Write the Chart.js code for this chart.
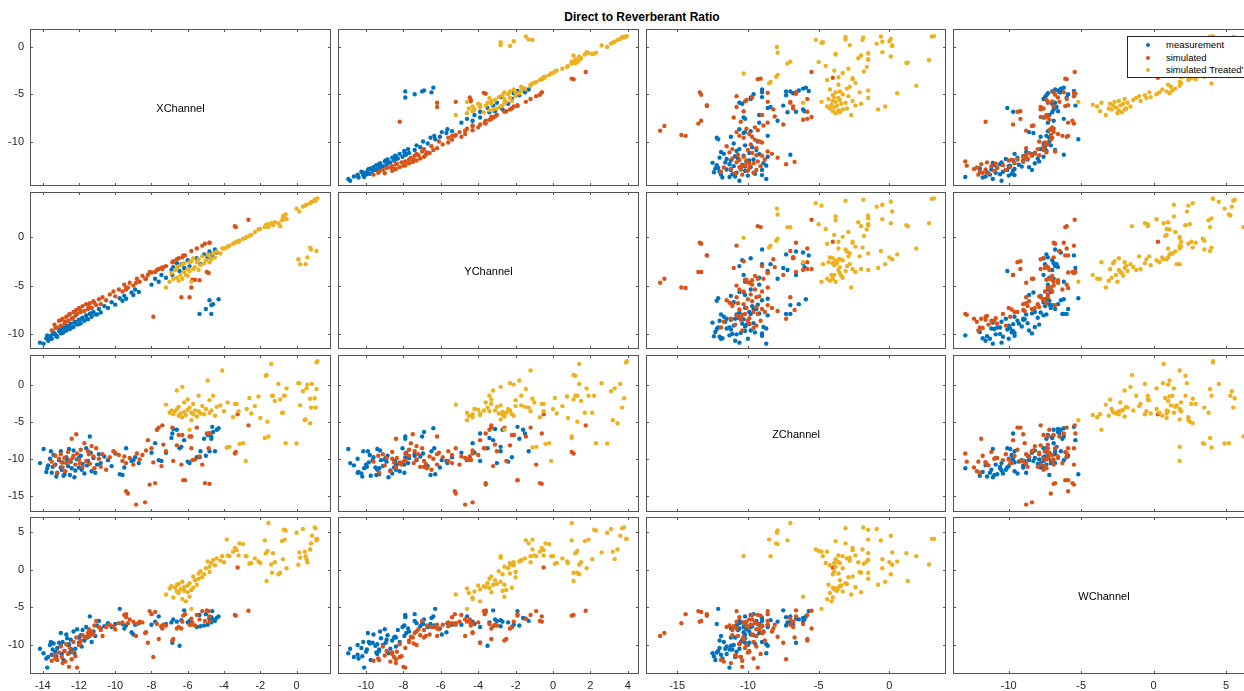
<!DOCTYPE html>
<html>
<head>
<meta charset="utf-8">
<script src="https://cdn.jsdelivr.net/npm/chart.js@4.4.1/dist/chart.umd.min.js"></script>
<style>
html,body{margin:0;padding:0;background:#fff;overflow:hidden;}
#root{position:relative;width:1244px;height:691px;overflow:hidden;font-family:Arial,"Liberation Sans",Helvetica,sans-serif;}
#root canvas{position:absolute;}
.title{position:absolute;top:10px;left:0;width:1284px;text-align:center;font-weight:bold;font-size:12px;color:#000;}
.diag{position:absolute;display:flex;align-items:center;justify-content:center;font-size:11px;color:#000;}
.legend{position:absolute;left:1127px;top:36px;width:130px;height:40px;border:1px solid #262626;background:#fff;z-index:5;}
.legend div{position:absolute;left:38px;font-size:9.5px;color:#000;line-height:12px;white-space:nowrap;}
.legend span{position:absolute;width:4px;height:4px;border-radius:50%;}
</style>
</head>
<body>
<div id="root"></div>
<script>
// Direct to Reverberant Ratio, plotmatrix of the four channels

const CHANNELS = ['XChannel','YChannel','ZChannel','WChannel'];

// measurement
const measX = [-14.15,-13.95,-13.8,-13.75,-13.6,-13.5,-13.4,-13.3,-13.2,-13.1,-13.0,-12.95,-12.9,-12.8,-12.7,-12.6,-12.5,-12.45,-12.3,-12.2,-12.1,-12.0,-11.9,-11.8,-11.7,-11.6,-11.5,-11.4,-11.3,-11.2,-11.0,-10.9,-10.8,-10.6,-10.4,-10.2,-10.0,-9.75,-9.6,-9.5,-9.4,-9.1,-9.0,-8.9,-8.7,
  -13.7,-13.45,-13.25,-13.0,-12.85,-12.65,-12.4,-12.25,-12.0,-11.85,-11.55,-11.35,-11.1,-13.55,-12.55,
  -8.0,-7.8,-7.6,-7.45,-7.2,-6.9,-6.85,-6.8,-6.6,-6.45,-6.35,-6.2,-6.0,-5.9,-5.5,-5.3,-5.1,-4.9,-4.8,-4.65,-4.5,-4.4,
  -5.35,-5.0,-4.8,-4.7,-4.6,-4.3,-4.7];
const measY = [-10.85,-10.95,-10.4,-10.1,-10.45,-10.45,-9.8,-10.0,-10.25,-9.65,-9.9,-9.4,-9.85,-9.3,-9.6,-9.1,-9.45,-8.9,-9.25,-8.7,-9.0,-8.5,-8.85,-8.3,-8.6,-8.05,-8.45,-7.9,-8.2,-7.7,-7.95,-7.4,-7.75,-7.1,-7.3,-6.7,-6.95,-6.3,-6.55,-6.05,-6.35,-5.7,-5.95,-5.4,-5.65,
  -10.65,-9.95,-10.2,-9.5,-9.75,-9.2,-9.3,-8.8,-8.95,-8.4,-8.4,-7.85,-7.95,-10.15,-9.4,
  -4.9,-4.3,-4.6,-3.9,-4.2,-3.4,-3.9,-3.1,-2.7,-3.5,-2.8,-3.2,-2.4,-3.0,-2.2,-2.8,-1.8,-2.1,-1.5,-1.9,-1.3,-1.6,
  -7.9,-7.4,-6.5,-7.0,-6.9,-6.4,-7.9];
const measZ = [-10.6,-8.7,-11.8,-11.3,-10.0,-11.9,-9.5,-10.8,-12.0,-10.2,-9.0,-11.5,-10.5,-12.1,-9.8,-11.0,-12.2,-10.4,-8.9,-11.6,-10.1,-11.2,-9.6,-10.7,-12.0,-8.6,-10.3,-7.0,-11.7,-9.9,-10.8,-9.4,-10.6,-9.7,-10.2,-11.0,-9.3,-12.1,-12.2,-11.2,-8.6,-10.3,-10.2,-9.8,-10.6,
  -10.9,-11.1,-12.4,-11.2,-12.3,-10.2,-11.3,-12.5,-9.9,-11.5,-10.9,-9.2,-11.9,-9.0,-8.7,
  -9.2,-7.9,-10.2,-10.3,-9.2,-7.2,-6.6,-6.0,-6.1,-8.6,-8.4,-7.5,-10.4,-10.6,-9.8,-9.0,-7.3,-6.8,-6.6,-5.7,-9.0,-6.1,
  -9.8,-9.6,-9.0,-7.0,-6.4,-5.9,-7.3];
const measW = [-10.5,-11.1,-11.8,-13.0,-10.0,-11.3,-9.8,-10.9,-10.4,-9.7,-8.4,-11.2,-9.6,-10.8,-8.6,-10.0,-11.0,-9.3,-8.2,-10.5,-7.9,-9.0,-8.7,-8.0,-9.4,-7.6,-8.9,-6.2,-9.6,-8.2,-7.4,-6.8,-7.8,-7.5,-7.1,-7.6,-7.2,-5.2,-7.2,-7.8,-7.4,-8.3,-8.6,-7.3,-7.1,
  -11.6,-10.6,-11.5,-10.1,-12.0,-9.1,-10.6,-11.1,-9.7,-10.2,-9.0,-8.4,-8.8,-9.6,-9.9,
  -7.3,-6.9,-6.2,-7.6,-7.2,-7.0,-9.7,-6.6,-6.9,-10.1,-6.7,-5.4,-7.0,-6.8,-7.6,-7.5,-7.4,-7.3,-6.5,-5.5,-6.8,-6.4,
  -6.0,-5.9,-6.4,-7.0,-6.6,-6.2,-6.3];

// simulated
const simX = [-13.5,-13.35,-13.2,-13.1,-13.0,-12.9,-12.8,-12.7,-12.6,-12.5,-12.4,-12.3,-12.2,-12.15,-12.1,-12.0,-11.9,-11.8,-11.7,-11.6,-11.5,-11.4,-11.3,-11.2,-11.05,-10.9,-10.8,-10.7,-10.5,-10.3,-10.1,-10.0,-9.8,-9.6,-9.5,-9.4,-9.2,-9.0,-8.8,-8.65,-8.5,-8.3,
  -13.3,-12.95,-12.75,-12.55,-12.35,-11.95,-11.45,-11.15,
  -8.85,-8.35,-9.4,-9.3,-8.1,-7.8,-5.05,-4.8,-6.15,-6.25,
  -8.0,-7.9,-7.7,-7.45,-7.4,-7.35,-7.2,-6.85,-6.8,-6.6,-6.5,-6.35,-6.3,-5.9,-5.8,-5.8,-5.75,-5.6,-5.5,-5.35,-5.2,-4.95,-4.85,-4.8,-3.4,-3.35,-3.25,-2.65,-8.2,-7.6];
const simY = [-9.6,-9.0,-9.3,-8.6,-9.1,-8.4,-8.9,-8.2,-8.6,-7.9,-8.4,-7.7,-8.1,-7.5,-7.9,-7.3,-7.7,-7.1,-7.6,-6.9,-7.4,-6.8,-7.3,-6.6,-7.0,-6.4,-6.9,-6.2,-6.5,-5.9,-5.6,-6.1,-5.4,-5.6,-4.9,-5.4,-4.7,-5.0,-4.3,-4.6,-4.0,-4.3,
  -9.35,-8.5,-8.7,-8.0,-8.35,-7.45,-7.2,-6.75,
  -4.7,-4.3,-5.25,-5.2,-3.6,-3.6,-0.7,-0.6,-1.9,-1.9,
  -3.65,-8.2,-3.4,-3.2,-3.3,-3.1,-3.0,-2.6,-2.5,-2.3,-2.2,-6.2,-2.1,-6.2,-5.2,-1.45,-4.4,-4.4,-1.2,-4.45,-0.9,-3.6,-3.7,-0.6,1.1,1.0,-0.5,1.75,-3.9,-3.3];
const simZ = [-10.4,-10.9,-11.9,-10.0,-9.4,-11.2,-9.9,-10.6,-9.1,-10.2,-7.3,-9.6,-10.8,-6.7,-9.3,-10.1,-8.8,-11.1,-7.9,-10.3,-9.0,-10.7,-8.3,-9.7,-8.6,-10.0,-11.1,-9.4,-11.5,-9.8,-9.0,-9.2,-9.5,-10.3,-9.7,-10.6,-9.9,-10.8,-9.3,-10.1,-9.5,-8.9,
  -9.6,-10.5,-11.7,-10.4,-9.9,-10.6,-9.4,-11.3,
  -16.2,-15.9,-14.4,-14.7,-13.5,-13.3,-13.3,-13.4,-12.9,-12.9,
  -8.6,-10.5,-6.1,-11.0,-5.5,-8.1,-9.0,-5.8,-10.3,-8.2,-6.8,-10.8,-6.8,-7.0,-8.6,-7.0,-10.2,-10.1,-5.8,-9.7,-10.8,-6.6,-8.6,-6.6,-9.3,-9.1,-4.0,-5.5,-7.5,-5.8];
const simW = [-12.1,-11.4,-12.0,-11.0,-10.2,-12.4,-10.8,-9.9,-11.2,-10.4,-11.9,-9.6,-11.5,-9.0,-13.0,-10.0,-9.4,-8.7,-8.9,-9.0,-8.4,-8.8,-8.2,-8.6,-6.8,-7.6,-8.0,-8.8,-7.6,-7.3,-7.5,-7.9,-7.1,-7.0,-6.0,-6.3,-6.6,-6.9,-7.2,-6.9,-7.0,-8.3,
  -11.8,-11.6,-12.2,-12.9,-10.9,-9.8,-7.9,-7.4,
  -8.8,-8.4,-5.9,-7.1,-5.5,-5.6,-6.8,-6.9,-5.9,-6.1,
  -5.9,-11.6,-7.2,-7.5,-7.8,-7.3,-7.4,-9.4,-9.2,-7.8,-7.6,-7.8,-6.9,-7.3,-7.3,-6.5,-7.0,-7.4,-6.0,-6.6,-5.5,-5.4,-5.5,-6.2,-6.0,-6.1,0.3,-5.45,-9.7,-9.2];

// simulated Treated
const trtX = [-7.2,-7.0,-6.9,-6.8,-6.7,-6.6,-6.6,-6.5,-6.5,-6.4,-6.3,-6.3,-6.2,-6.2,-6.1,-6.0,-6.0,-5.9,-5.9,-5.8,
  -5.8,-5.7,-5.7,-5.6,-5.5,-5.4,-5.4,-5.3,-5.2,-5.1,-5.0,-4.9,-4.8,-4.8,-4.7,-4.6,-4.5,-4.4,-4.2,-4.1,
  -4.0,-3.85,-3.8,-3.7,-3.5,-3.4,-3.3,-3.2,-3.15,-2.95,-2.8,-2.75,-2.6,-2.5,-2.3,-2.1,-2.0,-1.75,-1.7,-1.65,
  -1.6,-1.55,-1.4,-1.35,-1.3,-1.2,-1.0,-0.9,-0.8,-0.75,-0.7,-0.65,-0.6,-0.55,0.0,0.15,0.35,0.45,0.55,0.75,
  0.85,1.0,1.05,1.1,1.15,
  0.1,0.2,0.5,0.6,0.75,0.8,1.1];
const trtY = [-5.2,-4.6,-3.7,-4.3,-3.4,-4.2,-3.2,-4.5,-3.0,-3.9,-2.8,-4.3,-3.6,-2.7,-3.9,-3.3,-4.0,-2.6,-3.5,-4.6,
  -2.5,-3.3,-2.2,-3.1,-2.6,-3.4,-2.3,-2.9,-2.0,-2.7,-2.4,-1.8,-2.6,-2.0,-2.3,-1.7,-2.1,-1.5,-1.7,-1.2,
  -1.2,-1.1,-1.0,-0.9,-0.7,-0.6,-0.5,-0.5,-0.4,-0.2,-0.1,0.0,0.1,0.2,0.5,0.75,0.8,1.0,1.2,1.1,
  1.3,1.0,1.4,1.3,1.2,1.5,1.4,1.1,1.7,2.1,2.2,1.9,2.3,1.8,2.9,2.6,3.1,3.2,3.3,3.45,
  3.6,3.8,3.7,3.9,3.95,
  -2.3,-2.8,-2.8,-2.1,-1.1,-1.3,-1.45];
const trtZ = [-2.7,-3.8,-3.5,-4.0,-3.6,-3.3,-0.8,-4.2,-3.0,-3.9,-0.3,-4.4,-2.4,-3.7,-4.1,-2.0,-3.4,-6.1,-3.1,-4.8,
  -3.8,-2.6,-4.0,-3.5,-4.3,-1.5,-3.6,-3.9,-2.9,-4.0,-3.3,0.55,-3.8,-2.1,-3.5,-1.5,-4.2,-3.0,-2.8,1.9,
  -3.6,-8.5,-2.4,-8.4,-4.4,-2.6,-2.6,-3.6,-8.0,-7.9,-10.3,-3.3,-1.8,-3.9,-2.9,-1.6,-4.5,-7.2,1.2,1.3,
  -5.0,-7.0,2.8,-1.5,-1.5,-2.2,0.1,-2.0,-3.8,-3.8,-1.5,-1.5,-7.9,-0.5,-7.95,0.2,-0.9,-4.8,-0.5,-5.2,
  0.1,-1.85,-3.1,3.0,3.15,
  0.2,-2.8,-4.7,0.0,-1.9,-3.1,-0.6];
const trtW = [-3.3,-2.5,-2.2,-3.7,-2.4,-2.9,-2.0,-3.1,-1.9,-2.6,-1.6,-3.9,-2.3,-2.8,-4.2,-3.0,-2.1,-3.6,-1.8,-5.2,
  -2.7,-0.9,-2.4,-1.4,-2.0,-1.2,-0.5,-0.2,-1.0,-0.6,0.2,1.1,0.4,-0.3,0.9,1.3,0.6,1.5,1.2,1.8,
  1.0,4.0,1.9,1.8,2.4,2.9,2.6,1.9,3.5,3.4,1.8,1.8,0.8,0.9,1.5,1.1,0.9,3.9,2.2,-1.5,
  2.5,6.2,0.7,-0.4,2.2,1.0,-0.6,-0.4,3.8,1.4,5.3,4.0,5.2,0.2,4.9,2.3,5.4,2.4,1.4,2.7,
  4.5,5.6,5.5,4.1,4.1,
  0.65,1.6,1.8,1.0,2.7,3.5,3.9];

// axis limits and ticks, per channel (same limits used on rows and columns)
const LIMITS = [[-14.7,1.9],[-11.5,4.6],[-17.2,4.0],[-13.85,7.0]];
const X_TICKS = [[-14,-12,-10,-8,-6,-4,-2,0],[-10,-8,-6,-4,-2,0,2,4],[-15,-10,-5,0],[-10,-5,0,5]];
const Y_TICKS = [[-10,-5,0],[-10,-5,0],[-15,-10,-5,0],[-10,-5,0,5]];

const SERIES = [
  {name:'measurement',        color:'#0072BD', vals:[measX,measY,measZ,measW]},
  {name:'simulated',          color:'#D95319', vals:[simX,simY,simZ,simW]},
  {name:"simulated Treated'", color:'#EDB120', vals:[trtX,trtY,trtZ,trtW]}
];

// layout (px) ---------------------------------------------------------------
const COL_LEFT = [30,338,646,953];
const COL_W    = [301,301,300,302];
const ROW_TOP  = [29,192,355,517];
const ROW_H    = 157;
const LABEL_W = 30, LABEL_H = 16, TICK = 3;
const AXIS_COLOR = '#555';
const FONT = {family:'Arial, "Liberation Sans", sans-serif', size:11};

const root = document.getElementById('root');

function div(cls, style, text){
  const d = document.createElement('div');
  d.className = cls;
  Object.assign(d.style, style);
  if(text) d.textContent = text;
  root.appendChild(d);
  return d;
}

// box + inward tick marks on all four sides
const boxTicks = {
  id:'boxTicks',
  afterDraw(chart){
    const {ctx, chartArea:a, scales:{x,y}} = chart;
    ctx.save();
    ctx.strokeStyle = AXIS_COLOR;
    ctx.lineWidth = 1;
    ctx.beginPath();
    x.ticks.forEach(t=>{
      const px = Math.round(x.getPixelForValue(t.value))+0.5;
      ctx.moveTo(px,a.top); ctx.lineTo(px,a.top+TICK);
      ctx.moveTo(px,a.bottom); ctx.lineTo(px,a.bottom-TICK);
    });
    y.ticks.forEach(t=>{
      const py = Math.round(y.getPixelForValue(t.value))+0.5;
      ctx.moveTo(a.left,py); ctx.lineTo(a.left+TICK,py);
      ctx.moveTo(a.right,py); ctx.lineTo(a.right-TICK,py);
    });
    ctx.stroke();
    ctx.strokeRect(a.left+0.5, a.top+0.5, a.right-a.left-1, a.bottom-a.top-1);
    ctx.restore();
  }
};

// keep the plot box exactly where the layout says, labels may overflow
function fixBox(s, size){
  if(s.isHorizontal()) s.height = size; else s.width = size;
  s.paddingTop = s.paddingBottom = s.paddingLeft = s.paddingRight = 0;
}

function buildPanel(r, c){
  const padL = c===0 ? LABEL_W : 0;
  const padB = r===3 ? LABEL_H : 0;
  const cv = document.createElement('canvas');
  cv.width = COL_W[c] + padL;
  cv.height = ROW_H + padB;
  cv.style.left = (COL_LEFT[c]-padL)+'px';
  cv.style.top = ROW_TOP[r]+'px';
  root.appendChild(cv);

  const datasets = r===c ? [] : SERIES.map((s,k)=>({
    label: s.name,
    data: s.vals[c].map((v,i)=>({x:v, y:s.vals[r][i]})),
    backgroundColor: s.color,
    pointRadius: 2.2,
    pointBorderWidth: 0,
    order: SERIES.length-k
  }));

  new Chart(cv, {
    type:'scatter',
    data:{datasets},
    plugins:[boxTicks],
    options:{
      responsive:false, animation:false, devicePixelRatio:1,
      layout:{padding:0, autoPadding:false},
      plugins:{legend:{display:false}, tooltip:{enabled:false}},
      scales:{
        x:{
          type:'linear', min:LIMITS[c][0], max:LIMITS[c][1], bounds:'data',
          afterBuildTicks: s=>{ s.ticks = X_TICKS[c].map(v=>({value:v})); },
          afterFit: s=>fixBox(s, padB),
          grid:{display:false, drawTicks:false}, border:{display:false},
          ticks:{display:r===3, font:FONT, color:'#262626', padding:5, maxRotation:0, autoSkip:false}
        },
        y:{
          type:'linear', min:LIMITS[r][0], max:LIMITS[r][1], bounds:'data',
          afterBuildTicks: s=>{ s.ticks = Y_TICKS[r].map(v=>({value:v})); },
          afterFit: s=>fixBox(s, padL),
          grid:{display:false, drawTicks:false}, border:{display:false},
          ticks:{display:c===0, font:FONT, color:'#262626', padding:6, autoSkip:false}
        }
      }
    }
  });

  if(r===c){
    div('diag', {left:COL_LEFT[c]+'px', top:ROW_TOP[r]+'px', width:COL_W[c]+'px', height:ROW_H+'px'}, CHANNELS[c]);
  }
}

for(let r=0;r<4;r++) for(let c=0;c<4;c++) buildPanel(r,c);

div('title', {}, 'Direct to Reverberant Ratio');

// legend in the top-right panel
const legend = div('legend', {});
SERIES.forEach((s,i)=>{
  const dot = document.createElement('span');
  Object.assign(dot.style, {left:'18px', top:(6+i*12.7)+'px', background:s.color});
  legend.appendChild(dot);
  const t = document.createElement('div');
  t.style.top = (2+i*12.7)+'px';
  t.textContent = s.name;
  legend.appendChild(t);
});
</script>
</body>
</html>
